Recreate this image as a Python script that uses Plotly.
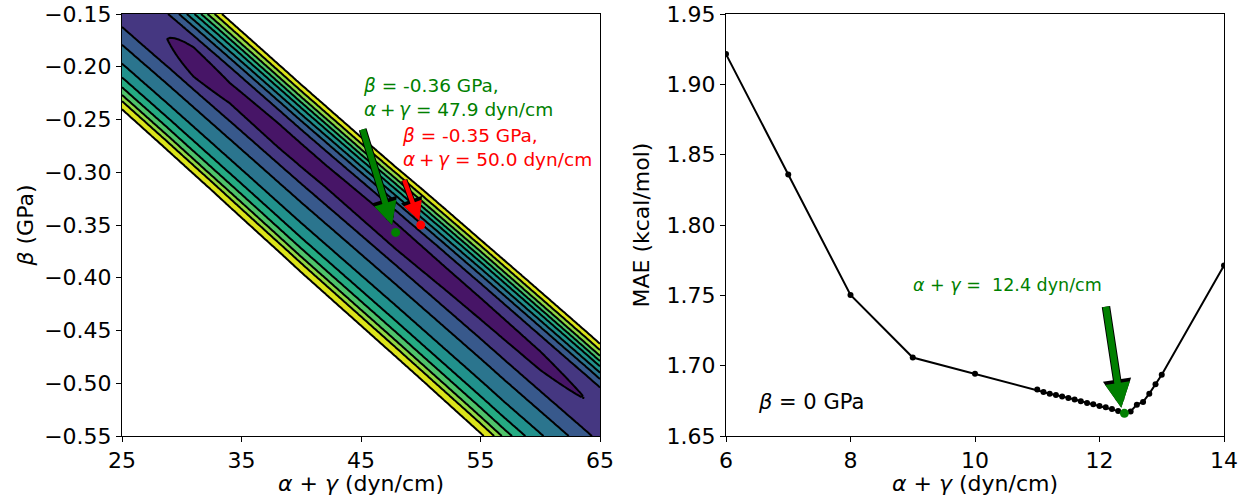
import numpy as np
import plotly.graph_objects as go

# ---------------- Left panel: MAE surface ----------------
level_start, level_end, level_step = 1.5, 5.5, 0.5

# valley (minimum line) of the surface
valley_x = [25.0, 28.75, 35.0, 40.0, 47.9, 55.0, 63.9, 65.0]
valley_beta = [-0.137, -0.173, -0.234, -0.283, -0.359, -0.428, -0.516, -0.527]

# MAE at the valley floor
floor_x = [25.0, 28.75, 31.0, 34.0, 38.0, 42.0, 47.9, 52.0, 56.0, 60.0, 63.9, 65.0]
floor_mae = [1.80, 1.50, 0.90, 1.20, 1.10, 1.15, 1.05, 1.15, 1.20, 1.25, 1.50, 1.60]

# contour levels and their beta offsets from the valley (upper-right / lower-left side)
side_levels = [2.0, 2.5, 3.0, 3.5, 4.0, 4.5, 5.0, 5.5]
upper_offset = [0.023, 0.031, 0.037, 0.043, 0.048, 0.053, 0.0585, 0.064]
lower_offset = [-0.030, -0.049, -0.070, -0.085, -0.096, -0.1045, -0.111, -0.120]
upper_scale_x = [25.0, 33.0, 45.0, 65.0]
upper_scale = [1.07, 1.06, 1.00, 1.00]
lower_scale_x = [25.0, 40.0, 57.0, 65.0]
lower_scale = [0.86, 0.93, 1.00, 1.00]
far_mae = 40.0

# optimum points on the left panel
best_green = (47.9, -0.357)
best_red = (50.0, -0.35)

left_xticks = [25, 35, 45, 55, 65]
left_yticks = [-0.55, -0.50, -0.45, -0.40, -0.35, -0.30, -0.25, -0.20, -0.15]
left_yticktext = ["\u22120.55", "\u22120.50", "\u22120.45", "\u22120.40", "\u22120.35",
                  "\u22120.30", "\u22120.25", "\u22120.20", "\u22120.15"]

# ---------------- Right panel: MAE vs alpha+gamma at beta = 0 ----------------
ag = [6.0, 7.0, 8.0, 9.0, 10.0, 11.0, 11.1, 11.2, 11.3, 11.4, 11.5, 11.6, 11.7, 11.8,
      11.9, 12.0, 12.1, 12.2, 12.3, 12.4, 12.5, 12.6, 12.7, 12.8, 12.9, 13.0, 14.0]
mae = [1.9215, 1.8359, 1.7503, 1.7058, 1.6942, 1.6830, 1.6813, 1.6801, 1.6792, 1.6780,
       1.6771, 1.6759, 1.6747, 1.6735, 1.6725, 1.6713, 1.6704, 1.6692, 1.6677, 1.6661,
       1.6675, 1.6723, 1.6742, 1.6801, 1.6868, 1.6935, 1.7712]
best_right = (12.4, 1.6661)

right_xticks = [6, 8, 10, 12, 14]
right_yticks = [1.65, 1.70, 1.75, 1.80, 1.85, 1.90, 1.95]

# ---------------- styles ----------------
band_colors = ["#471567", "#453781", "#38598c", "#2b758e", "#21918c",
               "#25ab82", "#4fc36a", "#90d743", "#dbe31a", "#ffffff"]
FONT = "DejaVu Sans"
GREEN = "#008000"
RED = "#ff0000"

# ---------------- build the grid table the contour trace needs ----------------
gx = np.linspace(25, 65, 201)
gb = np.linspace(-0.55, -0.15, 201)
Z = np.empty((gb.size, gx.size))
for j, xv in enumerate(gx):
    bv = np.interp(xv, valley_x, valley_beta)
    m = np.interp(xv, floor_x, floor_mae)
    us = np.interp(xv, upper_scale_x, upper_scale)
    ls = np.interp(xv, lower_scale_x, lower_scale)
    dk = np.concatenate([[-1.0], np.array(lower_offset[::-1]) * ls, [0.0],
                         np.array(upper_offset) * us, [1.0]])
    zk = np.concatenate([[far_mae], side_levels[::-1], [m], side_levels, [far_mae]])
    Z[:, j] = np.interp(gb - bv, dk, zk)

nb = len(band_colors) - 1
colorscale = []
for k, c in enumerate(band_colors):
    lo = max(0.0, (k - 0.5) / nb)
    hi = min(1.0, (k + 0.5) / nb)
    colorscale += [[lo, c], [hi, c]]

fig = go.Figure()
fig.add_trace(go.Contour(
    x=gx, y=gb, z=Z, autocontour=False,
    contours=dict(start=level_start, end=level_end, size=level_step,
                  coloring="fill", showlines=True),
    line=dict(color="black", width=2, smoothing=0),
    colorscale=colorscale, showscale=False, hoverinfo="skip",
    xaxis="x", yaxis="y"))

fig.add_trace(go.Scatter(x=[best_green[0]], y=[best_green[1]], mode="markers",
                         marker=dict(color=GREEN, size=9), xaxis="x", yaxis="y",
                         showlegend=False))
fig.add_trace(go.Scatter(x=[best_red[0]], y=[best_red[1]], mode="markers",
                         marker=dict(color=RED, size=9), xaxis="x", yaxis="y",
                         showlegend=False))

fig.add_trace(go.Scatter(x=ag, y=mae, mode="lines+markers",
                         line=dict(color="black", width=2),
                         marker=dict(color="black", size=6),
                         xaxis="x2", yaxis="y2", showlegend=False))
fig.add_trace(go.Scatter(x=[best_right[0]], y=[best_right[1]], mode="markers",
                         marker=dict(color=GREEN, size=9),
                         xaxis="x2", yaxis="y2", showlegend=False))


def fat_arrow(xref, yref, tail, tip, color, width, head):
    """Filled arrow with a thin black outline: a black arrow under a coloured one."""
    out = []
    bw = width + 2.0
    for c, w, h in (("black", bw, head + 3.5), (color, width, head)):
        out.append(dict(x=tip[0], y=tip[1], ax=tail[0], ay=tail[1], xref=xref, yref=yref,
                        axref=xref, ayref=yref, text="", showarrow=True,
                        arrowhead=2, arrowsize=h / (5.0 * w), arrowwidth=w, arrowcolor=c,
                        standoff=0, startstandoff=0))
    return out


annotations = []
annotations += fat_arrow("x", "y", (45.1, -0.258), (best_green[0] - 0.3, best_green[1] + 0.007), GREEN, 6, 23)
annotations += fat_arrow("x", "y", (48.57, -0.306), (best_red[0] - 0.12, best_red[1] + 0.004), RED, 4.5, 19)
annotations += fat_arrow("x2", "y2", (12.10, 1.743), (best_right[0] - 0.05, best_right[1] + 0.004), GREEN, 6.5, 25)

annotations += [
    dict(x=45.0, y=-0.2287, xref="x", yref="y", xanchor="left", yanchor="middle",
         align="left", showarrow=False,
         text="<i>\u03b2</i> = -0.36 GPa,<br><i>\u03b1</i>\u2009+\u2009<i>\u03b3</i> = 47.9 dyn/cm",
         font=dict(family=FONT, size=18.5, color=GREEN)),
    dict(x=48.3, y=-0.2762, xref="x", yref="y", xanchor="left", yanchor="middle",
         align="left", showarrow=False,
         text="<i>\u03b2</i> = -0.35 GPa,<br><i>\u03b1</i>\u2009+\u2009<i>\u03b3</i> = 50.0 dyn/cm",
         font=dict(family=FONT, size=18.5, color=RED)),
    dict(x=8.97, y=1.7573, xref="x2", yref="y2", xanchor="left", yanchor="middle",
         showarrow=False,
         text="<i>\u03b1</i> + <i>\u03b3</i> =\u00a0 12.4 dyn/cm",
         font=dict(family=FONT, size=17.5, color=GREEN)),
    dict(x=6.48, y=1.674, xref="x2", yref="y2", xanchor="left", yanchor="middle",
         showarrow=False, text="<i>\u03b2</i> = 0 GPa",
         font=dict(family=FONT, size=21, color="black")),
]

axis_common = dict(showline=True, mirror=True, linecolor="black", linewidth=1,
                   ticks="outside", ticklen=5, tickwidth=1, tickcolor="black",
                   showgrid=False, zeroline=False, automargin=False,
                   tickfont=dict(family=FONT, size=22, color="black"))

fig.update_layout(
    width=1239, height=496,
    margin=dict(l=0, r=0, t=0, b=0),
    paper_bgcolor="white", plot_bgcolor="white",
    showlegend=False,
    font=dict(family=FONT, color="black"),
    xaxis=dict(domain=[122 / 1239, 600 / 1239], range=[25, 65],
               tickvals=left_xticks, ticktext=[str(v) for v in left_xticks],
               title=dict(text="<i>\u03b1</i> + <i>\u03b3</i> (dyn/cm)",
                          font=dict(family=FONT, size=22), standoff=4),
               anchor="y", **axis_common),
    yaxis=dict(domain=[1 - 436 / 496, 1 - 14 / 496], range=[-0.55, -0.15],
               tickvals=left_yticks, ticktext=left_yticktext,
               title=dict(text="<i>\u03b2</i> (GPa)", font=dict(family=FONT, size=22), standoff=4),
               anchor="x", **axis_common),
    xaxis2=dict(domain=[726 / 1239, 1224 / 1239], range=[6, 14],
                tickvals=right_xticks, ticktext=[str(v) for v in right_xticks],
                title=dict(text="<i>\u03b1</i> + <i>\u03b3</i> (dyn/cm)",
                           font=dict(family=FONT, size=22), standoff=4),
                anchor="y2", **axis_common),
    yaxis2=dict(domain=[1 - 436 / 496, 1 - 14 / 496], range=[1.65, 1.95],
                tickvals=right_yticks, ticktext=["%.2f" % v for v in right_yticks],
                title=dict(text="MAE (kcal/mol)", font=dict(family=FONT, size=22), standoff=10),
                anchor="x2", **axis_common),
    annotations=annotations,
)

fig.write_html("out.html")
